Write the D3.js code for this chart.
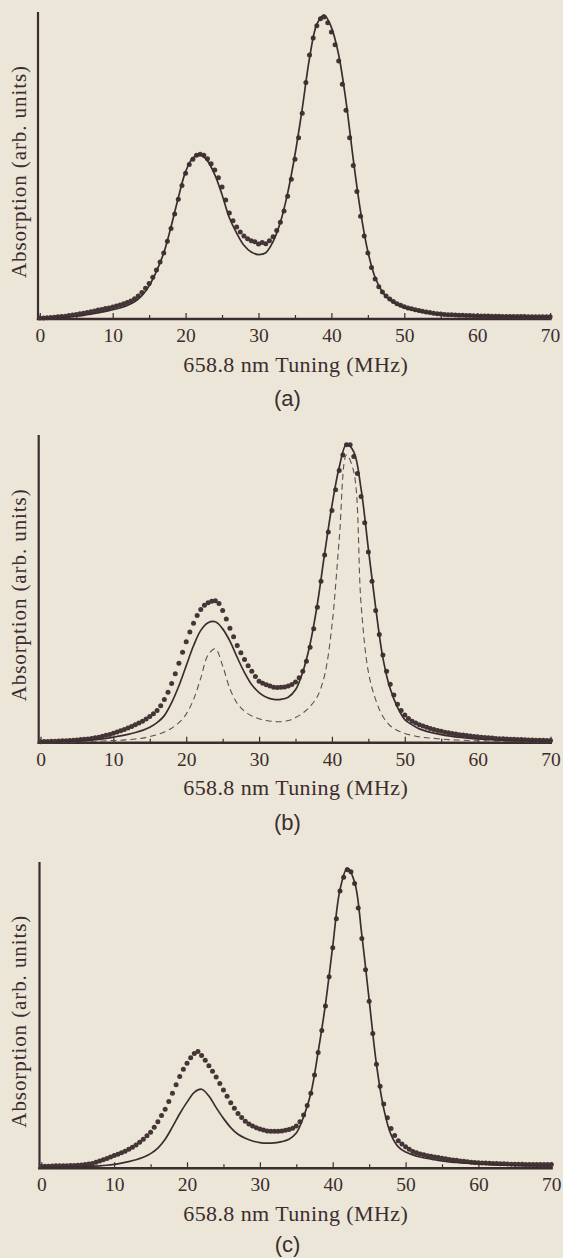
<!DOCTYPE html>
<html><head><meta charset="utf-8">
<script src="https://cdn.jsdelivr.net/npm/d3@7"></script>
<style>
html,body{margin:0;padding:0;background:#ece6d8;}
svg{display:block;}
</style></head><body>
<svg id="chart" width="563" height="1258"></svg>
<script>
// ---------------- data ----------------
const xMajorTicks = [0, 10, 20, 30, 40, 50, 60, 70];
const xMinorTicks = [5, 15, 25, 35, 45, 55, 65];
const xTitle = "658.8 nm Tuning (MHz)";
const yTitle = "Absorption (arb. units)";
const panelNames = ["(a)", "(b)", "(c)"];
const dataStep = 0.5;   // MHz between measured points
const fitStep = 1;      // MHz between fit samples

// (a) measured absorption, 0 .. 70 MHz every 0.5 MHz
const dataA = [
.003,.0035,.004,.005,.006,.007,.008,.009,.011,.013,
.015,.017,.019,.021,.024,.026,.029,.031,.034,.036,
.039,.042,.046,.050,.054,.059,.066,.075,.086,.100,
.116,.136,.160,.186,.215,.253,.295,.342,.390,.435,
.475,.503,.520,.533,.537,.533,.522,.506,.485,.460,
.430,.388,.345,.320,.300,.283,.270,.261,.255,.252,
.244,.249,.245,.255,.268,.288,.315,.352,.400,.455,
.520,.590,.670,.770,.860,.915,.955,.978,.984,.965,
.935,.893,.840,.765,.680,.590,.500,.415,.335,.270,
.215,.168,.130,.105,.088,.075,.065,.057,.050,.045,
.040,.036,.033,.030,.028,.025,.023,.021,.019,.017,
.016,.015,.014,.0135,.013,.0125,.012,.0115,.011,.0105,
.010,.010,.010,.0095,.009,.009,.009,.0085,.008,.008,
.008,.008,.008,.008,.0075,.0075,.007,.007,.007,.007,
.007];
// (a) fit, every 1 MHz
const fitA = [
.002,.003,.004,.005,.007,.009,.012,.016,.020,.025,
.030,.036,.044,.056,.076,.108,.155,.215,.300,.395,
.480,.525,.535,.515,.470,.405,.330,.280,.240,.218,
.210,.216,.252,.315,.410,.535,.685,.850,.960,.990,
.950,.860,.710,.520,.350,.220,.135,.088,.062,.047,
.037,.030,.025,.021,.018,.015,.013,.012,.011,.010,
.009,.009,.008,.008,.008,.007,.007,.007,.006,.006,.006];

// (b) measured absorption
const dataB = [
.003,.0035,.004,.0045,.005,.0055,.006,.0065,.007,.008,
.009,.010,.011,.012,.014,.016,.018,.021,.024,.027,
.031,.035,.039,.043,.048,.053,.058,.064,.070,.077,
.085,.094,.105,.120,.140,.164,.192,.224,.258,.294,
.328,.360,.388,.413,.433,.447,.455,.460,.461,.452,
.430,.402,.372,.344,.316,.292,.270,.250,.232,.215,
.200,.193,.188,.184,.180,.179,.180,.181,.184,.189,
.197,.211,.232,.265,.310,.370,.440,.525,.610,.685,
.755,.822,.885,.935,.968,.968,.930,.875,.800,.715,
.620,.525,.430,.352,.285,.232,.190,.155,.125,.105,
.090,.079,.070,.064,.058,.054,.050,.046,.043,.040,
.037,.034,.032,.030,.028,.026,.025,.023,.022,.020,
.019,.018,.017,.016,.015,.014,.013,.0125,.012,.0115,
.011,.0105,.010,.0095,.009,.0085,.008,.008,.008,.0075,
.007];
// (b) fit (solid)
const fitB = [
.002,.002,.003,.004,.005,.006,.007,.009,.011,.014,
.018,.022,.027,.033,.040,.050,.065,.088,.130,.185,
.250,.315,.365,.390,.393,.370,.330,.277,.228,.188,
.163,.148,.141,.141,.148,.172,.230,.320,.450,.615,
.770,.895,.970,.945,.825,.630,.440,.275,.175,.115,
.075,.058,.045,.037,.031,.026,.022,.019,.016,.014,
.012,.011,.010,.009,.008,.007,.007,.006,.006,.005,.005];
// (b) second curve (dashed)
const dashB = [
.001,.001,.002,.002,.002,.003,.003,.004,.005,.006,
.007,.008,.010,.012,.015,.020,.026,.035,.047,.065,
.093,.140,.210,.285,.305,.250,.175,.128,.102,.087,
.078,.072,.069,.068,.072,.082,.096,.118,.150,.220,
.380,.660,.935,.880,.450,.230,.140,.085,.055,.040,
.030,.024,.019,.016,.014,.012,.010,.009,.008,.007,
.006,.006,.005,.005,.004,.004,.004,.003,.003,.003,.003];

// (c) measured absorption
const dataC = [
.006,.0065,.007,.0075,.008,.008,.008,.0085,.009,.0095,
.010,.011,.012,.014,.016,.020,.024,.028,.032,.037,
.042,.046,.051,.056,.062,.069,.076,.085,.095,.106,
.118,.134,.152,.172,.193,.218,.245,.273,.300,.323,
.343,.361,.375,.381,.368,.353,.335,.317,.298,.277,
.256,.235,.214,.196,.179,.166,.154,.145,.138,.132,
.128,.125,.122,.121,.121,.121,.122,.124,.127,.131,
.138,.152,.174,.205,.245,.305,.378,.450,.530,.625,
.720,.815,.905,.950,.975,.968,.930,.850,.750,.648,
.545,.440,.340,.268,.210,.165,.130,.107,.090,.079,
.070,.062,.055,.051,.047,.044,.041,.039,.037,.035,
.033,.031,.029,.027,.026,.024,.023,.021,.020,.019,
.018,.0175,.017,.0165,.016,.0155,.015,.0145,.014,.0135,
.013,.013,.013,.0125,.012,.012,.012,.012,.012,.012,
.012];
// (c) fit
const fitC = [
.003,.003,.004,.004,.005,.005,.006,.007,.008,.010,
.013,.017,.022,.028,.036,.048,.066,.095,.135,.178,
.216,.248,.258,.236,.198,.163,.133,.111,.098,.089,
.084,.082,.083,.087,.095,.115,.168,.245,.380,.535,
.725,.910,.980,.935,.760,.550,.340,.195,.110,.070,
.053,.044,.037,.032,.028,.024,.021,.019,.017,.016,
.014,.013,.012,.011,.010,.010,.009,.009,.008,.008,.008];

// ---------------- layout ----------------
const layout = [
  {top: 12,  base: 319,    x0: 39.8, x1: 550.1, labelY: 406},
  {top: 435, base: 742.7,  x0: 40.5, x1: 550.5, labelY: 830},
  {top: 862, base: 1168.3, x0: 41.3, x1: 551.3, labelY: 1251.5}
];
const series = [
  {data: dataA, fit: fitA, dash: null},
  {data: dataB, fit: fitB, dash: dashB},
  {data: dataC, fit: fitC, dash: null}
];

const ink = "#3b2d2e";
const dotInk = "#453536";
const serif = "Liberation Serif, Times New Roman, Times, serif";
const svg = d3.select("#chart");
svg.append("rect").attr("width", 563).attr("height", 1258).attr("fill", "#ece6d8");

layout.forEach((L, k) => {
  const S = series[k];
  const x = d3.scaleLinear().domain([0, 70]).range([L.x0, L.x1]);
  const y = d3.scaleLinear().domain([0, 1]).range([L.base, L.top]);
  const g = svg.append("g");

  // minor ticks
  const minor = g.append("g").attr("transform", `translate(0,${L.base})`)
    .call(d3.axisBottom(x).tickValues(xMinorTicks).tickSizeInner(-4).tickSizeOuter(0).tickFormat(""));
  minor.select(".domain").remove();
  minor.selectAll("line").attr("stroke", ink).attr("stroke-width", 1.2);

  // major ticks + labels
  const major = g.append("g").attr("transform", `translate(0,${L.base})`)
    .call(d3.axisBottom(x).tickValues(xMajorTicks).tickSizeInner(-6).tickSizeOuter(0));
  major.select(".domain").attr("stroke", ink).attr("stroke-width", 2.6)
    .attr("d", `M${L.x0 - 3},0H${L.x1 + 1.5}`);
  major.selectAll("line").attr("stroke", ink).attr("stroke-width", 1.2);
  major.selectAll("text").attr("y", 23).attr("dy", null)
    .attr("font-family", serif)
    .attr("font-size", 19.5).attr("fill", ink);

  // y axis line (no ticks)
  g.append("line").attr("x1", L.x0 - 1.8).attr("x2", L.x0 - 1.8)
    .attr("y1", L.top).attr("y2", L.base + 1)
    .attr("stroke", ink).attr("stroke-width", 2.2);

  // measured points
  g.append("g").selectAll("circle").data(S.data).join("circle")
    .attr("cx", (d, i) => x(i * dataStep))
    .attr("cy", d => y(d))
    .attr("r", 2.5)
    .attr("fill", dotInk);

  const line = d3.line().x((d, i) => x(i * fitStep)).y(d => y(d)).curve(d3.curveCatmullRom.alpha(0.5));

  if (S.dash) {
    g.append("path").attr("d", line(S.dash)).attr("fill", "none")
      .attr("stroke", "#5e4e4f").attr("stroke-width", 1.1).attr("stroke-dasharray", "6,4");
  }
  g.append("path").attr("d", line(S.fit)).attr("fill", "none")
    .attr("stroke", ink).attr("stroke-width", 1.7);

  // titles
  g.append("text").attr("x", 295.5).attr("y", L.base + 52.5)
    .attr("text-anchor", "middle")
    .attr("font-family", serif)
    .attr("font-size", 22).attr("fill", ink)
    .attr("textLength", 224.5).attr("lengthAdjust", "spacing")
    .text(xTitle);

  const yc = (L.top + L.base) / 2 + 6.5;
  g.append("text").attr("transform", `translate(26,${yc}) rotate(-90)`)
    .attr("text-anchor", "middle")
    .attr("font-family", serif)
    .attr("font-size", 21).attr("fill", ink)
    .attr("textLength", 212).attr("lengthAdjust", "spacing")
    .text(yTitle);

  g.append("text").attr("x", 287.5).attr("y", L.labelY)
    .attr("text-anchor", "middle")
    .attr("font-family", "Liberation Sans, Arial, sans-serif")
    .attr("font-size", 22).attr("fill", ink)
    .text(panelNames[k]);
});
</script>
</body></html>
